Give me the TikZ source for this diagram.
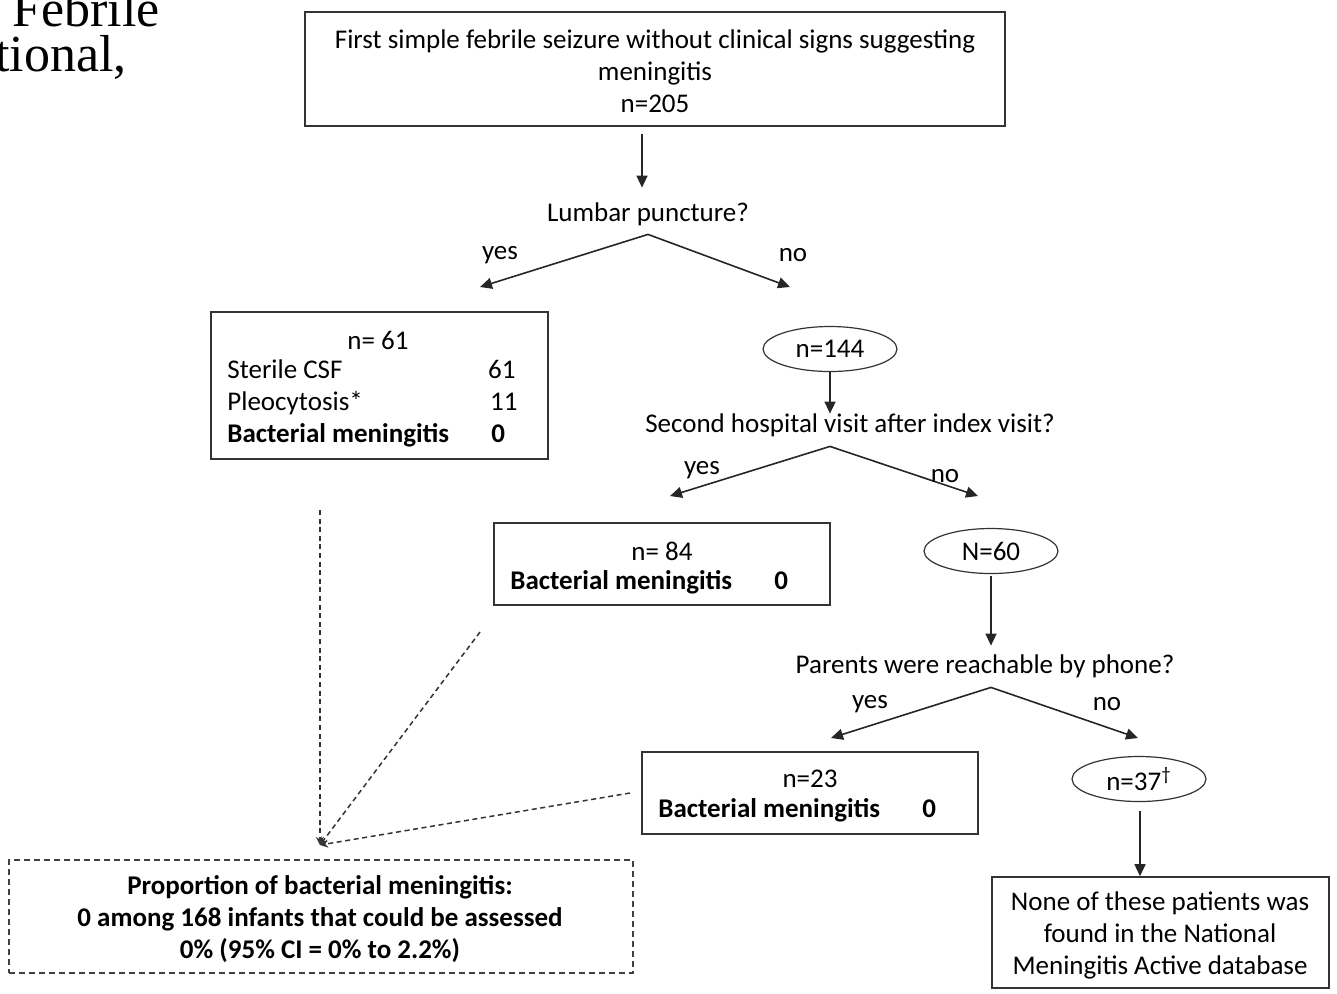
\documentclass[tikz,border=0pt]{standalone}
\usepackage{fontspec}
\setmainfont{Carlito}
\newfontfamily\pagefont{Liberation Serif}
\usetikzlibrary{arrows.meta,shapes.geometric,fit}

\tikzset{
  box/.style={draw=black!80, line width=0.8pt, inner sep=0pt, align=center},
  dashbox/.style={draw=black!75, line width=0.7pt, dash pattern=on 3pt off 2pt, inner sep=0pt, align=center},
  oval/.style={draw=black!80, line width=0.6pt, ellipse, inner sep=0pt, minimum width=67pt, minimum height=22.5pt},
  question/.style={inner sep=0pt, text height=9pt, text depth=3pt, minimum height=23pt},
  row/.style={inner sep=0pt, text height=9pt, text depth=3pt},
  arr/.style={draw=black!85, line width=0.8pt, -{Triangle[length=6pt,width=5.5pt]}},
  dasharr/.style={draw=black!80, line width=0.75pt, dash pattern=on 2.5pt off 1.8pt, -{Stealth[open,length=4pt,width=4pt]}}
}

\begin{document}
\begin{tikzpicture}[x=0.5pt, y=-0.5pt, font=\fontsize{13.5}{16}\selectfont]
\useasboundingbox (0,0) rectangle (1337,993);
\clip (0,0) rectangle (1337,993);

% bit of the page behind the chart
\node[anchor=base west, inner sep=0pt, font=\pagefont\fontsize{26}{30}\selectfont] (pg1) at (12,26) {Febrile};
\node[anchor=base east, inner sep=0pt, font=\pagefont\fontsize{26}{30}\selectfont] (pg2) at (127,71) {tional,};

% first level
\node[box, fit={(305,12) (1005,126)}] (top) {};
\node[align=center, inner sep=0pt] (topText) at (655,71) {First simple febrile seizure without clinical signs suggesting\\meningitis\\n=205};
\node[question] (lumbar) at (648,215) {Lumbar puncture?};
\draw[arr] ([yshift=-3.5pt]top.south -| 642,0) -- ([yshift=2pt]lumbar.north -| 642,0);
\coordinate (lumbarYes) at (480,287);
\coordinate (lumbarNo) at (790,287);
\draw[arr] ([yshift=2pt]lumbar.south) -- (lumbarYes);
\draw[arr] ([yshift=2pt]lumbar.south) -- (lumbarNo);
\node (Label) at (500,255) {yes};
\node (Label) at (793,255) {no};

% lumbar puncture done
\node[box, fit={(211,312) (548,459)}] (lpBox) {};
\node (lpN) at (378,340) {n= 61};
\node[row, anchor=west] (csf) at (227,372) {Sterile CSF};
\node[row, anchor=east] (csfN) at (516,372) {61};
\node[row, anchor=west] (pleo) at (227,404) {Pleocytosis*};
\node[row, anchor=east] (pleoN) at (518,404) {11};
\node[row, anchor=west] (bm1) at (227,436) {\bfseries Bacterial meningitis};
\node[row, anchor=west] (bm1N) at (491,436) {\bfseries 0};

% no lumbar puncture
\node[oval] (n144) at (830,349) {n=144};
\node[question] (second) at (850,426) {Second hospital visit after index visit?};
\draw[arr] (n144.south) -- ([yshift=-5.5pt]second.north -| n144);
\coordinate (secondYes) at (670,496);
\coordinate (secondNo) at (978,496);
\draw[arr] ([xshift=-10pt,yshift=1.5pt]second.south) -- (secondYes);
\draw[arr] ([xshift=-10pt,yshift=1.5pt]second.south) -- (secondNo);
\node (Label) at (702,470) {yes};
\node (Label) at (945,476) {no};

\node[box, fit={(494,523) (830,605)}] (visitBox) {};
\node (visitN) at (662,551) {n= 84};
\node[row, anchor=west] (bm2) at (510,583) {\bfseries Bacterial meningitis};
\node[row, anchor=west] (bm2N) at (774,583) {\bfseries 0};

\node[oval] (n60) at (991,551) {N=60};
\node[question] (phone) at (985,667) {Parents were reachable by phone?};
\draw[arr] ([yshift=-1pt]n60.south) -- ([yshift=-1pt]phone.north -| n60);
\coordinate (phoneYes) at (831,738);
\coordinate (phoneNo) at (1138,738);
\draw[arr] ([xshift=3pt,yshift=1.5pt]phone.south) -- (phoneYes);
\draw[arr] ([xshift=3pt,yshift=1.5pt]phone.south) -- (phoneNo);
\node (Label) at (870,704) {yes};
\node (Label) at (1107,704) {no};

\node[box, fit={(642,752) (978,834)}] (phoneBox) {};
\node (phoneN) at (810,779) {n=23};
\node[row, anchor=west] (bm3) at (658,811) {\bfseries Bacterial meningitis};
\node[row, anchor=west] (bm3N) at (922,811) {\bfseries 0};

\node[oval] (n37) at (1139,779) {n=37\textsuperscript{\dag}};
\node[box, fit={(992,877) (1329,988)}] (registry) {};
\node[align=center, inner sep=0pt] (registryText) at (1160,935) {None of these patients was\\found in the National\\Meningitis Active database};
\draw[arr, shorten <=4.5pt] (n37.south -| 1140,0) -- (registry.north -| 1140,0);

% pooled result
\coordinate (fromLp) at (320,510);
\coordinate (fromVisit) at (480,632);
\coordinate (fromPhone) at (630,793);
\coordinate (pool) at (320,845);
\draw[dasharr] (fromLp) -- (pool);
\draw[dasharr] (fromVisit) -- (pool);
\draw[dasharr] (fromPhone) -- (pool);
\node[dashbox, fit={(9,860) (633,973)}] (summary) {};
\node[align=center, inner sep=0pt, font=\fontsize{13.5}{16}\selectfont\bfseries] (summaryText) at (320,919) {Proportion of bacterial meningitis:\\0 among 168 infants that could be assessed\\0\% (95\% CI = 0\% to 2.2\%)};
\end{tikzpicture}
\end{document}
